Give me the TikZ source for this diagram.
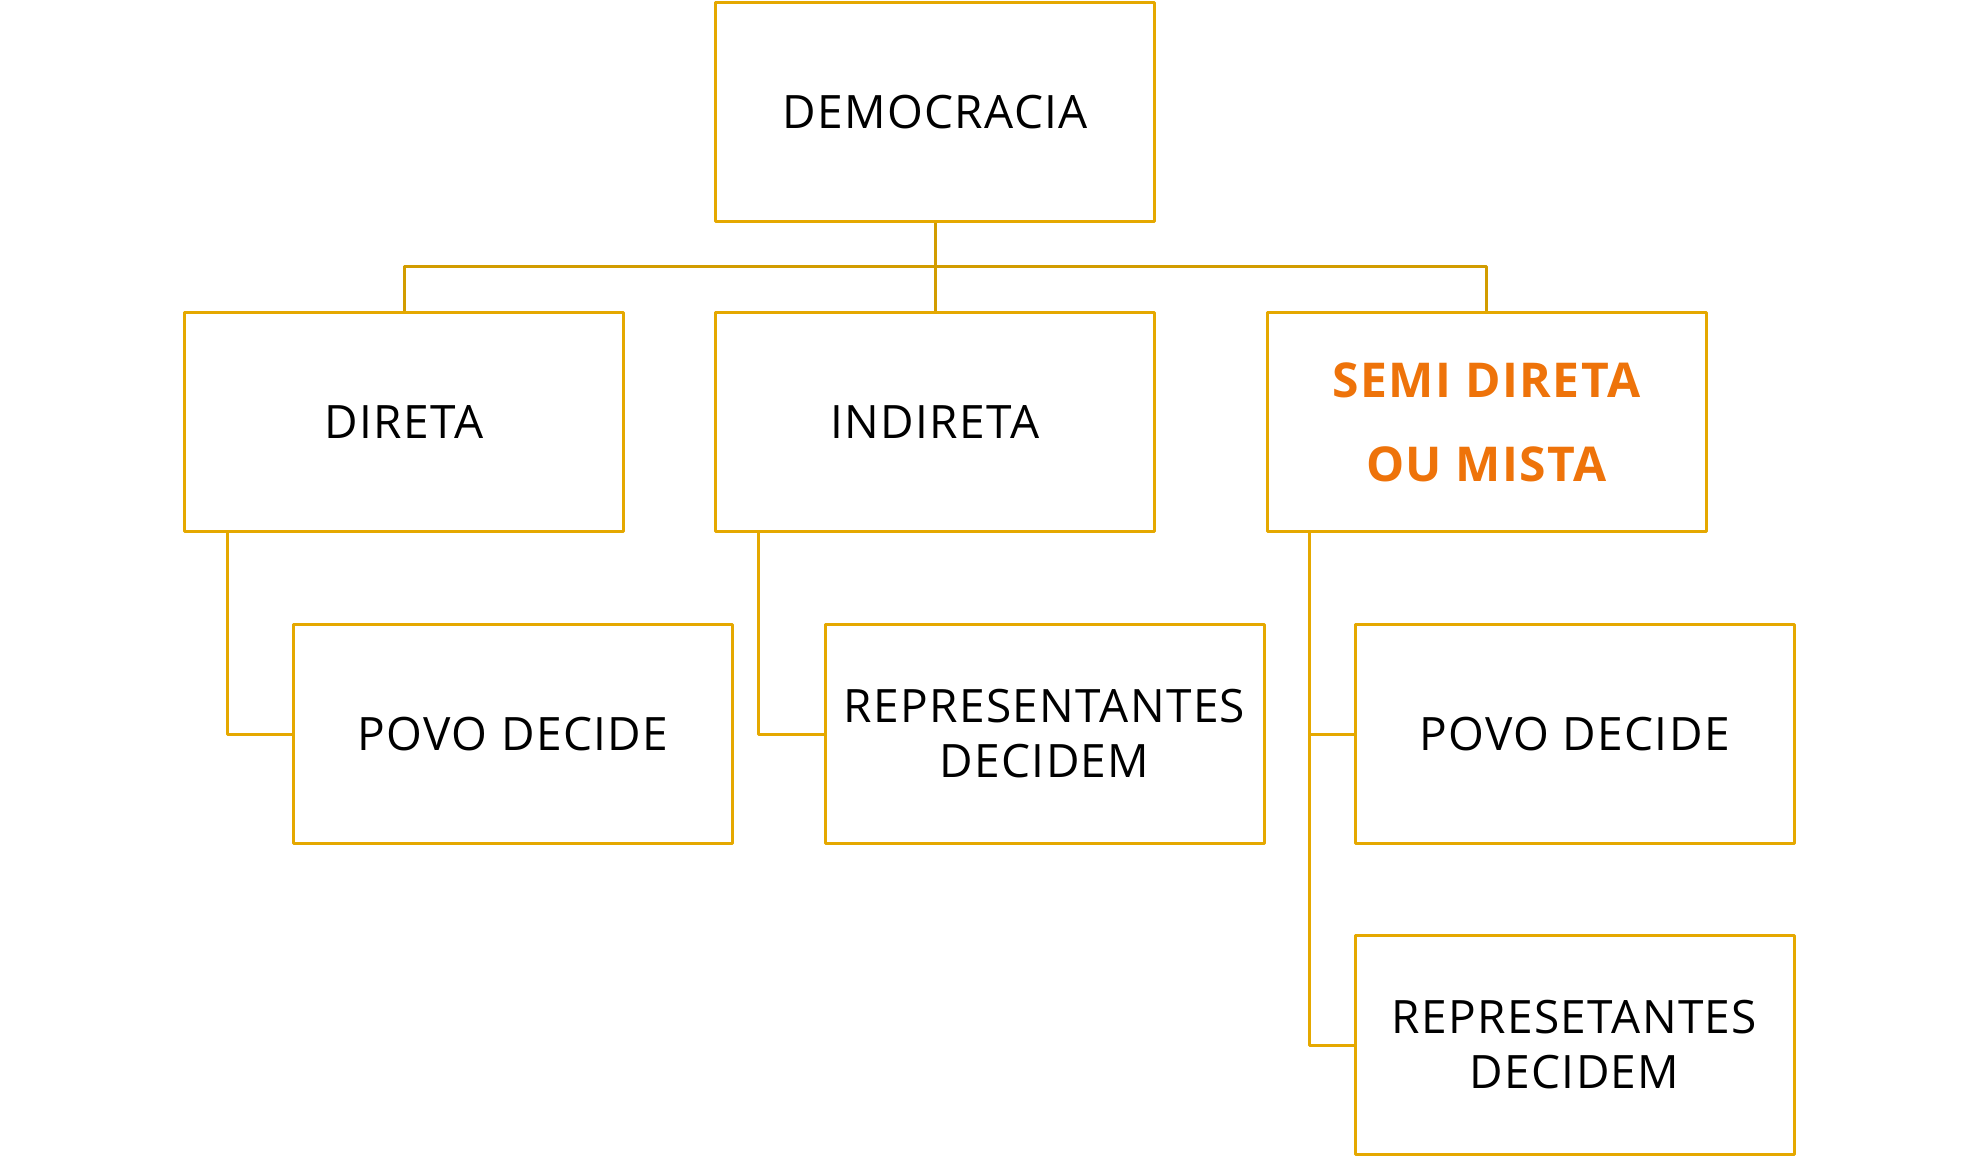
\documentclass[tikz,border=0pt]{standalone}
\usepackage{fontspec}
\setmainfont{Open Sans}[LetterSpace=3]
\definecolor{boxgold}{HTML}{E5A800}
\definecolor{conngold}{HTML}{D29C00}
\definecolor{hiorange}{HTML}{EE730A}
\begin{document}
\begin{tikzpicture}[x=1pt,y=-1pt,
  box/.style={draw=boxgold,line width=3pt,line join=round,rectangle,
    minimum width=439pt,minimum height=219pt,inner sep=0pt,align=center,
    font=\fontsize{46}{55}\selectfont},
  hibox/.style={box,text=hiorange,font=\fontsize{48}{84}\selectfont\bfseries},
  conn/.style={draw=conngold,line width=3pt,line join=round},
  branch/.style={draw=boxgold,line width=3pt,line join=round}]
\useasboundingbox (0,0) rectangle (1980,1157);
\node[box] (demo) at (935,112) {DEMOCRACIA};
\node[box] (direta) at (404,422) {DIRETA};
\node[box] (indireta) at (935,422) {INDIRETA};
\node[hibox] (semi) at (1486.5,422) {SEMI DIRETA\\OU MISTA};
\node[box] (povo1) at (513,734) {POVO DECIDE};
\node[box] (rep1) at (1044.5,734) {REPRESENTANTES\\DECIDEM};
\node[box] (povo2) at (1574.5,734) {POVO DECIDE};
\node[box] (rep2) at (1574.5,1045) {REPRESETANTES\\DECIDEM};
\coordinate (bus) at (935,266.5);
\draw[conn] (demo.south) -- (indireta.north);
\draw[conn] (direta.north) |- (bus) -| (semi.north);
\coordinate (d) at ([xshift=44pt]direta.south west);
\coordinate (i) at ([xshift=44pt]indireta.south west);
\coordinate (s) at ([xshift=44pt]semi.south west);
\draw[branch] (d) |- (povo1.west);
\draw[branch] (i) |- (rep1.west);
\draw[branch] (s) |- (rep2.west);
\draw[branch] (s |- povo2.west) -- (povo2.west);
\end{tikzpicture}
\end{document}
